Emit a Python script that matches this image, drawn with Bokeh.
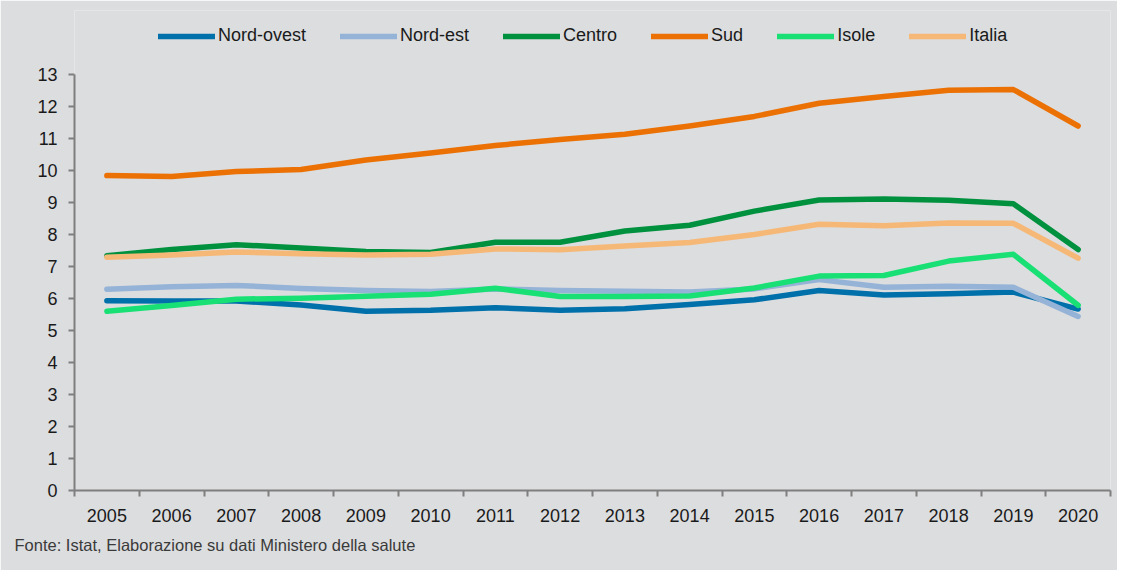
from bokeh.plotting import figure
from bokeh.models import FixedTicker, Legend, LegendItem, Title, Range1d
from bokeh.embed import file_html
from bokeh.resources import INLINE

years = list(range(2005, 2021))
series_names = ["Nord-ovest", "Nord-est", "Centro", "Sud", "Isole", "Italia"]
nord_ovest = [5.93, 5.92, 5.92, 5.80, 5.60, 5.63, 5.71, 5.63, 5.68, 5.81, 5.96, 6.25, 6.11, 6.15, 6.20, 5.67]
nord_est = [6.29, 6.37, 6.41, 6.31, 6.25, 6.22, 6.30, 6.25, 6.23, 6.20, 6.30, 6.59, 6.35, 6.38, 6.35, 5.44]
centro = [7.34, 7.53, 7.68, 7.58, 7.47, 7.44, 7.76, 7.76, 8.11, 8.29, 8.73, 9.08, 9.11, 9.07, 8.96, 7.53]
sud = [9.84, 9.81, 9.97, 10.03, 10.33, 10.55, 10.78, 10.97, 11.13, 11.39, 11.69, 12.10, 12.31, 12.51, 12.53, 11.39]
isole = [5.60, 5.78, 5.98, 6.01, 6.07, 6.13, 6.32, 6.06, 6.06, 6.08, 6.33, 6.70, 6.72, 7.17, 7.38, 5.79]
italia = [7.29, 7.36, 7.45, 7.40, 7.36, 7.38, 7.55, 7.52, 7.64, 7.75, 8.00, 8.32, 8.27, 8.36, 8.35, 7.26]
colors = ["#0070AB", "#95B3D7", "#00913F", "#EC7105", "#19E074", "#F6B877"]
y_ticks = list(range(0, 14))
source_note = "Fonte: Istat, Elaborazione su dati Ministero della salute"

BG = "#DCDDDF"
FONT = "Liberation Sans"

# frame spans 0..15 on y so the legend sits inside it above the 13 line
p = figure(width=1117, height=570, output_backend="svg", toolbar_location=None,
           x_range=Range1d(years[0] - 0.5, years[-1] + 0.5), y_range=Range1d(0, 15),
           min_border_left=74, min_border_right=7, min_border_top=10, min_border_bottom=80)
p.background_fill_color = BG
p.border_fill_color = BG
p.outline_line_color = None
p.xgrid.visible = False
p.ygrid.visible = False

data = [nord_ovest, nord_est, centro, sud, isole, italia]
items = []
for name, vals, col in zip(series_names, data, colors):
    r = p.line(years, vals, line_color=col, line_width=5.5, line_cap="round", line_join="round")
    items.append(LegendItem(label=name, renderers=[r]))

# x axis: labels at year centres, ticks at category boundaries
xa = p.xaxis[0]
boundaries = [y - 0.5 for y in years] + [years[-1] + 0.5]
xa.ticker = FixedTicker(ticks=years, minor_ticks=boundaries)
xa.major_tick_line_color = None
xa.minor_tick_out = 6
xa.minor_tick_in = 0
xa.minor_tick_line_color = "#7F7F7F"
xa.minor_tick_line_width = 2
xa.axis_line_color = "#7F7F7F"
xa.axis_line_width = 2
xa.major_label_text_font = FONT
xa.major_label_text_font_size = "18px"
xa.major_label_text_color = "#1A1A1A"
xa.major_label_standoff = 12

ya = p.yaxis[0]
ya.ticker = FixedTicker(ticks=y_ticks)
ya.bounds = (0, 13)
ya.minor_tick_line_color = None
ya.major_tick_out = 6
ya.major_tick_in = 0
ya.major_tick_line_color = "#7F7F7F"
ya.major_tick_line_width = 2
ya.axis_line_color = "#7F7F7F"
ya.axis_line_width = 2
ya.major_label_text_font = FONT
ya.major_label_text_font_size = "18px"
ya.major_label_text_color = "#1A1A1A"
ya.major_label_standoff = 11

legend = Legend(items=items, orientation="horizontal", location=(84, 444),
                glyph_width=57, glyph_height=20, label_standoff=3, spacing=34,
                padding=0, margin=0, border_line_color=None, background_fill_alpha=0,
                label_text_font=FONT, label_text_font_size="18px", label_text_color="#1A1A1A",
                label_height=20)
p.add_layout(legend, "center")

note = Title(text=source_note, align="left", offset=-60, standoff=18, vertical_align="bottom",
             text_font=FONT, text_font_size="16.5px", text_color="#3A3A3A",
             text_font_style="normal")
p.add_layout(note, "below")

open("out.html", "w").write(file_html(p, INLINE))
